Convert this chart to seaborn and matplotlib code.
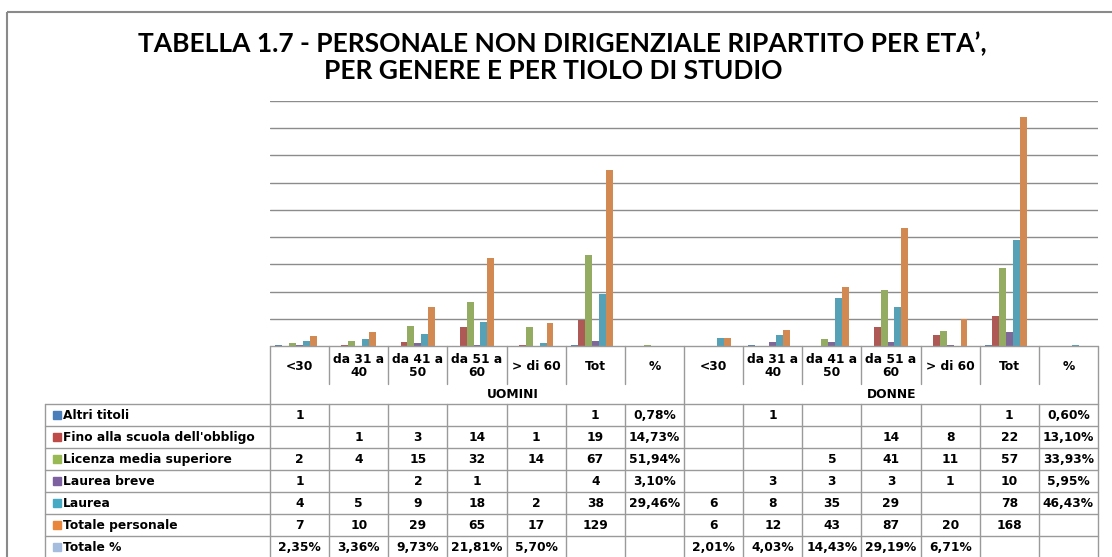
import numpy as np
import pandas as pd
import matplotlib
matplotlib.use("Agg")
import matplotlib.pyplot as plt
from matplotlib.patches import Rectangle
import seaborn as sns

# --- data ---
age_labels = ["<30", "da 31 a\n40", "da 41 a\n50", "da 51 a\n60", "> di 60", "Tot", "%"]
genders = ["UOMINI", "DONNE"]
series_names = ["Altri titoli", "Fino alla scuola dell'obbligo", "Licenza media superiore",
                "Laurea breve", "Laurea", "Totale personale", "Totale %"]

# 7 uomini columns then 7 donne columns; percentages stored as fractions
altri_titoli = [1, None, None, None, None, 1, 0.0078, None, 1, None, None, None, 1, 0.0060]
fino_obbligo = [None, 1, 3, 14, 1, 19, 0.1473, None, None, None, 14, 8, 22, 0.1310]
licenza_media = [2, 4, 15, 32, 14, 67, 0.5194, None, None, 5, 41, 11, 57, 0.3393]
laurea_breve = [1, None, 2, 1, None, 4, 0.0310, None, 3, 3, 3, 1, 10, 0.0595]
laurea = [4, 5, 9, 18, 2, 38, 0.2946, 6, 8, 35, 29, None, 78, 0.4643]
totale_personale = [7, 10, 29, 65, 17, 129, None, 6, 12, 43, 87, 20, 168, None]
totale_pct = [0.0235, 0.0336, 0.0973, 0.2181, 0.0570, None, None,
              0.0201, 0.0403, 0.1443, 0.2919, 0.0671, None, None]

colors = ["#4A7EBB", "#BE4B48", "#98B954", "#7D60A0", "#46AAC5", "#E8873C", "#A5BCDF"]

all_series = [altri_titoli, fino_obbligo, licenza_media, laurea_breve,
              laurea, totale_personale, totale_pct]
col_keys = [f"{g}|{a}" for g in genders for a in age_labels]

rows = []
for name, vals in zip(series_names, all_series):
    for key, v in zip(col_keys, vals):
        rows.append({"col": key, "serie": name, "val": 0 if v is None else v})
df = pd.DataFrame(rows)

# --- figure ---
W, H = 1112, 557
sns.set_style("white")
plt.rcParams["text.color"] = "black"
plt.rcParams["font.family"] = ["DejaVu Sans"]
fig = plt.figure(figsize=(W / 100, H / 100), dpi=100)

x0, x1, y_top, y_bot = 270, 1098, 101, 346
ax = fig.add_axes([x0 / W, 1 - y_bot / H, (x1 - x0) / W, (y_bot - y_top) / H])
sns.barplot(data=df, x="col", y="val", hue="serie", order=col_keys, hue_order=series_names,
            palette=colors, width=0.82, linewidth=0, errorbar=None, legend=False, ax=ax, zorder=3)
ax.set_xlim(-0.5, len(col_keys) - 0.5)
ax.set_ylim(0, 180)
ax.set_yticks(np.arange(20, 181, 20))
ax.yaxis.grid(True, color="#8C8C8C", lw=1.0, zorder=0)
ax.set_xticks([])
ax.set_yticklabels([])
ax.tick_params(left=False)
ax.set_xlabel("")
ax.set_ylabel("")
for s in ax.spines.values():
    s.set_visible(False)

# --- overlay in pixel coords for frame, title and data table ---
ov = fig.add_axes([0, 0, 1, 1])
ov.set_xlim(0, W)
ov.set_ylim(H, 0)
ov.axis("off")

ov.add_patch(Rectangle((7, 12), W + 20, H, fill=False, ec="#8A8A8A", lw=1.5))

title_font = ["Lato", "DejaVu Sans"]
ov.text(562, 44, "TABELLA 1.7 - PERSONALE NON DIRIGENZIALE RIPARTITO PER ETA\u2019,",
        ha="center", va="center", fontsize=19, fontweight="bold", family=title_font)
ov.text(553, 71, "PER GENERE E PER TIOLO DI STUDIO",
        ha="center", va="center", fontsize=19, fontweight="bold", family=title_font)

line_c = "#9A9A9A"
ncol = len(col_keys)
cw = (x1 - x0) / ncol
edges = [x0 + i * cw for i in range(ncol + 1)]
hdr_bot, grp_bot = 384, 404
row_h = 22
row_tops = [grp_bot + i * row_h for i in range(len(series_names) + 1)]
tfs = 8.8

# header
ov.plot([x0, x1], [y_bot, y_bot], color=line_c, lw=1)
for i, e in enumerate(edges):
    if i in (0, 7, ncol):
        ov.plot([e, e], [y_bot, grp_bot], color=line_c, lw=1)
    else:
        ov.plot([e, e], [y_bot, hdr_bot], color=line_c, lw=1)
for i, key in enumerate(col_keys):
    lab = key.split("|")[1]
    ov.text(edges[i] + cw / 2, 366, lab, ha="center", va="center", fontsize=tfs,
            fontweight="bold", linespacing=1.05)
ov.text(513, 394, "UOMINI", ha="center", va="center", fontsize=tfs, fontweight="bold")
ov.text(892, 394, "DONNE", ha="center", va="center", fontsize=tfs, fontweight="bold")

# body
tx0 = 45
for y in row_tops:
    ov.plot([tx0, x1], [y, y], color=line_c, lw=1)
for e in [tx0] + edges:
    ov.plot([e, e], [grp_bot, H + 5], color=line_c, lw=1)

for r, (name, vals, c) in enumerate(zip(series_names, all_series, colors)):
    yc = row_tops[r] + row_h / 2
    ov.add_patch(Rectangle((53, yc - 4), 8, 8, color=c))
    ov.text(63, yc + 0.5, name, ha="left", va="center", fontsize=tfs, fontweight="bold")
    for i, v in enumerate(vals):
        if v is None:
            continue
        is_pct = (i % 7 == 6) or name == "Totale %"
        s = f"{v * 100:.2f}%".replace(".", ",") if is_pct else str(int(v))
        ov.text(edges[i] + cw / 2, yc + 0.5, s, ha="center", va="center",
                fontsize=tfs, fontweight="bold")

fig.savefig("out.png", dpi=100)
